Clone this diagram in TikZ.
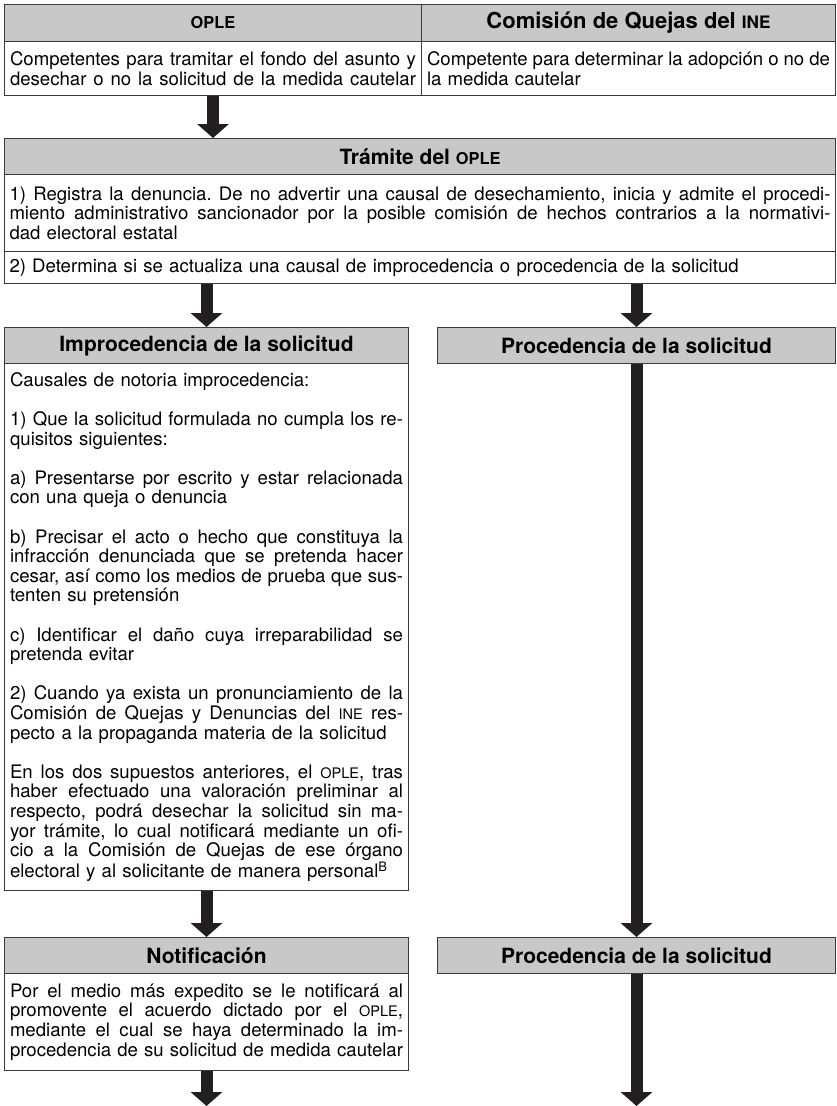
\documentclass[tikz,border=0pt]{standalone}
\usepackage{fontspec}
\setmainfont{TeX Gyre Heros}
\usepackage{graphicx}
\usetikzlibrary{arrows.meta}
\definecolor{hdr}{HTML}{C8C8C8}
\definecolor{ln}{HTML}{3A3A3A}
\definecolor{arr}{HTML}{231F20}
\newlength\JW
\newcommand\sca[1]{\scalebox{0.78}{#1}}
\newcommand\jl[1]{\leavevmode\hbox to \JW{\spaceskip=0.278em plus 0.3em minus 0.12em\relax #1}}
\begin{document}
\begin{tikzpicture}[x=1pt,y=-1pt,
  hbox/.style={draw=ln, line width=1pt, fill=hdr, inner sep=0pt, anchor=north west,
    font=\bfseries\fontsize{21}{23}\selectfont},
  bbox/.style={draw=ln, line width=1pt, fill=white, inner sep=0pt, anchor=north west,
    font=\fontsize{18.6}{19.6}\selectfont\frenchspacing, align=left},
  tw/.style={text width=#1, execute at begin node={\setlength\JW{#1}}},
  flow/.style={line width=12pt, draw=arr, -{Triangle[width=31pt,length=14pt]}}
]
\useasboundingbox (0,0) rectangle (836,1106);
\fill[white] (0,0) rectangle (836,1106);

% top table
\node[hbox, minimum width=417pt, minimum height=37pt] (h1) at (4,4) {\sca{OPLE}};
\node[hbox, minimum width=414pt, minimum height=37pt, font=\bfseries\fontsize{22}{24}\selectfont] (h2) at (421,4) {Comisión de Quejas del \sca{INE}};
\node[bbox, minimum width=417pt, minimum height=54pt, tw=406pt] (b1) at (4,41)
  {\jl{Competentes para tramitar el fondo del asunto y}\\
   \jl{desechar o no la solicitud de la medida cautelar}};
\node[bbox, minimum width=414pt, minimum height=54pt, tw=403pt] (b2) at (421,41)
  {\jl{Competente para determinar la adopción o no de}\\
   la medida cautelar};

% tramite
\node[hbox, minimum width=831pt, minimum height=36pt] (th) at (4,138) {Trámite del \sca{OPLE}};
\node[bbox, minimum width=831pt, minimum height=77pt, tw=821pt] (r1) at (4,174)
  {\jl{1) Registra la denuncia. De no advertir una causal de desechamiento, inicia y admite el procedi-}\\
   \jl{miento administrativo sancionador por la posible comisión de hechos contrarios a la normativi-}\\
   dad electoral estatal};
\node[bbox, minimum width=831pt, minimum height=32pt, tw=821pt] (r2) at (4,251)
  {2) Determina si se actualiza una causal de improcedencia o procedencia de la solicitud};

% improcedencia
\node[hbox, minimum width=404pt, minimum height=36pt] (ih) at (4,327) {Improcedencia de la solicitud};
\node[bbox, minimum width=404pt, minimum height=527pt, tw=393pt] (ib) at (4,363)
  {Causales de notoria improcedencia:\\[19.6pt]
   \jl{1) Que la solicitud formulada no cumpla los re-}\\
   quisitos siguientes:\\[19.6pt]
   \jl{a) Presentarse por escrito y estar relacionada}\\
   con una queja o denuncia\\[19.6pt]
   \jl{b) Precisar el acto o hecho que constituya la}\\
   \jl{infracción denunciada que se pretenda hacer}\\
   \jl{cesar, así como los medios de prueba que sus-}\\
   tenten su pretensión\\[19.6pt]
   \jl{c) Identificar el daño cuya irreparabilidad se}\\
   pretenda evitar\\[19.6pt]
   \jl{2) Cuando ya exista un pronunciamiento de la}\\
   \jl{Comisión de Quejas y Denuncias del \sca{INE} res-}\\
   pecto a la propaganda materia de la solicitud\\[19.6pt]
   \jl{En los dos supuestos anteriores, el \sca{OPLE}, tras}\\
   \jl{haber efectuado una valoración preliminar al}\\
   \jl{respecto, podrá desechar la solicitud sin ma-}\\
   \jl{yor trámite, lo cual notificará mediante un ofi-}\\
   \jl{cio a la Comisión de Quejas de ese órgano}\\
   electoral y al solicitante de manera personal\textsuperscript{B}};

% procedencia 1
\node[hbox, minimum width=398pt, minimum height=36pt] (p1) at (437,327) {Procedencia de la solicitud};

% notificacion
\node[hbox, minimum width=404pt, minimum height=36pt] (nh) at (4,937) {Notificación};
\node[bbox, minimum width=404pt, minimum height=97pt, tw=393pt] (nb) at (4,973)
  {\jl{Por el medio más expedito se le notificará al}\\
   \jl{promovente el acuerdo dictado por el \sca{OPLE},}\\
   \jl{mediante el cual se haya determinado la im-}\\
   \jl{procedencia de su solicitud de medida cautelar}};

% procedencia 2
\node[hbox, minimum width=398pt, minimum height=36pt] (p2) at (437,937) {Procedencia de la solicitud};

\coordinate (e1) at (206,1106);
\coordinate (e2) at (636,1106);

% connectors
\draw[flow] (b1.south) -- (b1.south |- th.north);
\draw[flow] (ih.north |- r2.south) -- (ih.north);
\draw[flow] (p1.north |- r2.south) -- (p1.north);
\draw[flow] (ib.south) -- (nh.north);
\draw[flow] (p1.south) -- (p2.north);
\draw[flow] (nb.south) -- (nb.south |- e1);
\draw[flow] (p2.south) -- (p2.south |- e2);
\end{tikzpicture}
\end{document}
